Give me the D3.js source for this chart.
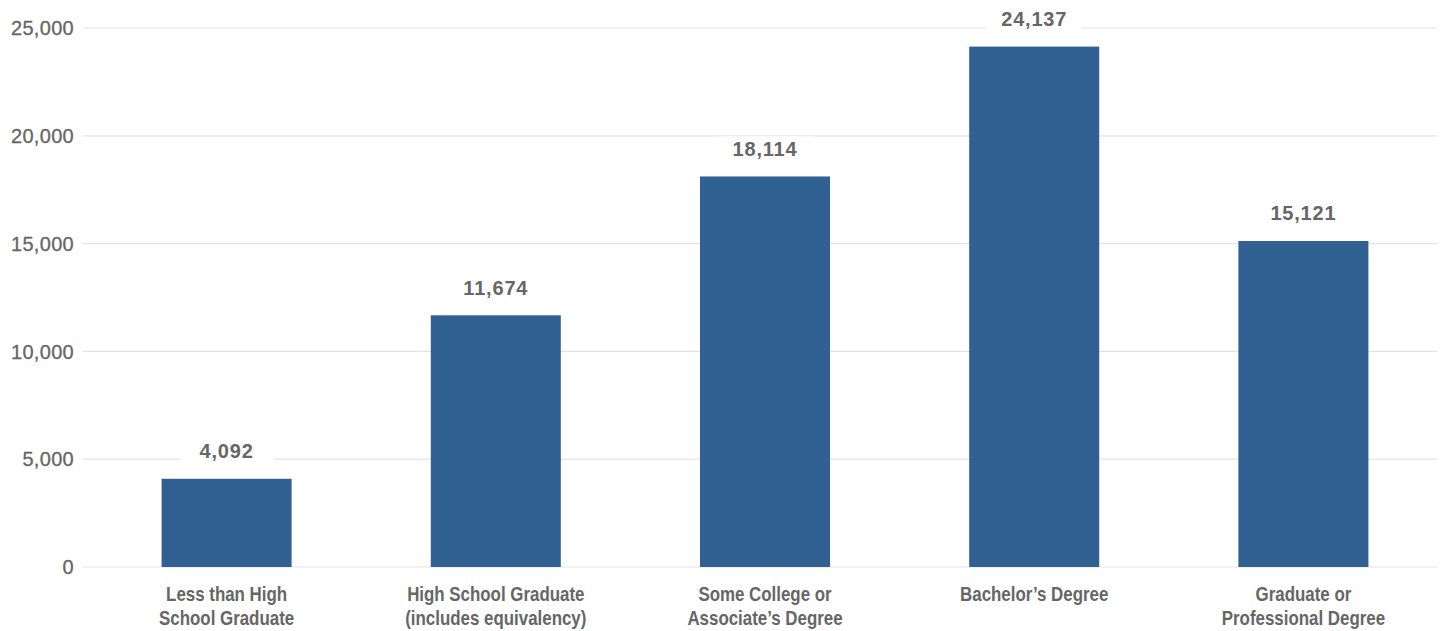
<!DOCTYPE html>
<html><head><meta charset="utf-8">
<script src="https://cdn.jsdelivr.net/npm/d3@7"></script>
<style>body{margin:0;background:#fff;}svg{display:block;}</style>
</head><body>
<svg id="chart" width="1443" height="631"></svg>
<script>
const categories = [
  ["Less than High", "School Graduate"],
  ["High School Graduate", "(includes equivalency)"],
  ["Some College or", "Associate’s Degree"],
  ["Bachelor’s Degree"],
  ["Graduate or", "Professional Degree"]
];
const values = [4092, 11674, 18114, 24137, 15121];
const yTicks = [0, 5000, 10000, 15000, 20000, 25000];

const svg = d3.select("#chart");
const grey = "#666666";
const x = d3.scaleBand().domain(d3.range(values.length)).range([92, 1438]).paddingInner(0.517).paddingOuter(0.2585);
const y = d3.scaleLinear().domain([0, 25000]).range([567, 28]);
const fmt = d3.format(",");

// gridlines
svg.append("g").selectAll("line").data(yTicks).join("line")
  .attr("x1", 83).attr("x2", 1437)
  .attr("y1", d => y(d)).attr("y2", d => y(d))
  .attr("stroke", "#e3e3e3").attr("stroke-width", 1.2);

// y tick labels
svg.append("g").selectAll("text").data(yTicks).join("text")
  .attr("x", 74).attr("y", d => y(d)).attr("dy", "0.36em")
  .attr("text-anchor", "end")
  .attr("font-family", "Liberation Sans, Arial, sans-serif")
  .attr("font-size", 20).attr("fill", grey)
  .attr("stroke", grey).attr("stroke-width", 0.3)
  .attr("letter-spacing", 0.3)
  .text(d => fmt(d));

// bars
svg.append("g").selectAll("rect").data(values).join("rect")
  .attr("x", (d, i) => x(i)).attr("width", x.bandwidth())
  .attr("y", d => y(d)).attr("height", d => y(0) - y(d))
  .attr("fill", "#316193");

// value labels with white background
const lab = svg.append("g").selectAll("g").data(values).join("g")
  .attr("transform", (d, i) => `translate(${x(i) + x.bandwidth() / 2},${y(d) - 28})`);
lab.append("rect")
  .attr("x", -47).attr("y", -12).attr("width", 94).attr("height", 24)
  .attr("fill", "#fff");
lab.append("text")
  .attr("text-anchor", "middle").attr("dy", "0.36em")
  .attr("font-family", "Liberation Sans, Arial, sans-serif")
  .attr("font-size", 20).attr("font-weight", "bold").attr("fill", grey)
  .attr("letter-spacing", 0.8)
  .text(d => fmt(d));

// category labels (condensed)
const cat = svg.append("g").selectAll("g").data(categories).join("g")
  .attr("transform", (d, i) => `translate(${x(i) + x.bandwidth() / 2},594) scale(0.845,1)`);
cat.selectAll("text").data(d => d).join("text")
  .attr("x", 0).attr("y", (d, i) => i * 24).attr("dy", "0.36em")
  .attr("text-anchor", "middle")
  .attr("font-family", "Liberation Sans, Arial, sans-serif")
  .attr("font-size", 20).attr("font-weight", "bold").attr("fill", grey)
  .text(d => d);
</script>
</body></html>
